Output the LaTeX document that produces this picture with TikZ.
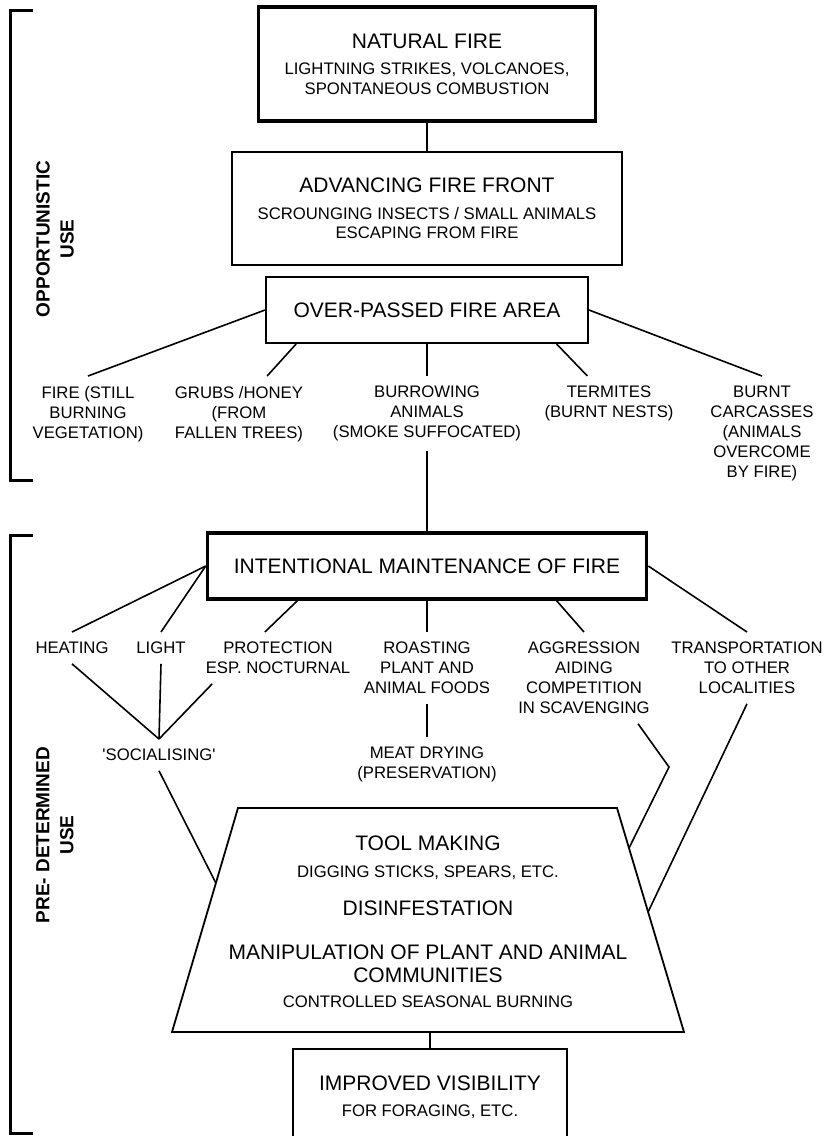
\documentclass[tikz,border=0pt]{standalone}
\usepackage{fontspec}
\setmainfont{Liberation Sans}
\usetikzlibrary{calc}
\newcommand\TitleF{\fontsize{10.5}{12.6}\selectfont}
\newcommand\SubF{\fontsize{8.35}{9.6}\selectfont}
\newcommand\LabF{\fontsize{8.35}{10}\selectfont}
\begin{document}
\begin{tikzpicture}[x=0.5pt,y=-0.5pt,
  conn/.style={line width=0.8pt},
  bracket/.style={line width=1.5pt},
  thinbox/.style={draw,line width=1pt,inner sep=0pt,align=center,font=\SubF},
  thickbox/.style={draw,line width=1.75pt,inner sep=0pt,align=center,font=\SubF},
  lab/.style={inner sep=0pt,outer sep=5pt,align=center,anchor=north,font=\LabF},
  txt/.style={inner sep=0pt,align=center,anchor=north,font=\SubF},
  side/.style={rotate=90,inner sep=0pt,align=center,font=\fontsize{9.5}{12}\selectfont\bfseries},
]
\useasboundingbox (0,0) rectangle (828,1136);
\clip (0,0) rectangle (828,1136);

% brackets
\draw[bracket] (33,10) -- (10,10) -- (10,480) -- (33,480);
\draw[bracket] (33,535) -- (10,535) -- (10,1133) -- (33,1133);
\node[side] (opp) at (55,239) {OPPORTUNISTIC\\USE};
\node[side] (pre) at (55,835) {PRE- DETERMINED\\USE};

% boxes
\node[thickbox,minimum width=168.5pt,minimum height=57pt] (nat) at (427,64)
  {{\TitleF NATURAL FIRE}\\[3.8pt]LIGHTNING STRIKES, VOLCANOES,\\SPONTANEOUS COMBUSTION};
\node[thinbox,minimum width=195pt,minimum height=56.5pt] (adv) at (427,208.5)
  {{\TitleF ADVANCING FIRE FRONT}\\[3.8pt]SCROUNGING INSECTS / SMALL ANIMALS\\ESCAPING FROM FIRE};
\node[thinbox,font=\TitleF,minimum width=161pt,minimum height=33pt] (over) at (427,310)
  {OVER-PASSED FIRE AREA};
\node[thickbox,font=\TitleF,minimum width=219.5pt,minimum height=33pt] (intent) at (427,566)
  {INTENTIONAL MAINTENANCE OF FIRE};
\node[thinbox,minimum width=137pt,minimum height=48pt] (vis) at (430,1097)
  {{\TitleF IMPROVED VISIBILITY}\\[3.3pt]FOR FORAGING, ETC.};

% upper labels
\node[lab] (fire) at (88,376) {FIRE (STILL\\BURNING\\VEGETATION)};
\node[lab] (grubs) at (239,376) {GRUBS /HONEY\\(FROM\\FALLEN TREES)};
\node[lab] (burrow) at (427,376) {BURROWING\\ANIMALS\\(SMOKE SUFFOCATED)};
\node[lab] (term) at (609,376) {TERMITES\\(BURNT NESTS)};
\node[lab] (carc) at (762,376) {BURNT\\CARCASSES\\(ANIMALS\\OVERCOME\\BY FIRE)};

% lower labels
\node[lab] (heat) at (72,632) {HEATING};
\node[lab] (light) at (161,632) {LIGHT};
\node[lab] (prot) at (278,632) {PROTECTION\\ESP. NOCTURNAL};
\node[lab] (roast) at (427,632) {ROASTING\\PLANT AND\\ANIMAL FOODS};
\node[lab] (aggr) at (584,632) {AGGRESSION\\AIDING\\COMPETITION\\IN SCAVENGING};
\node[lab] (trans) at (747,632) {TRANSPORTATION\\TO OTHER\\LOCALITIES};
\node[lab] (soc) at (159,739) {\textquotesingle SOCIALISING\textquotesingle};
\node[lab] (meat) at (427,737) {MEAT DRYING\\(PRESERVATION)};

% trapezoid
\coordinate (tzTL) at (238,808);
\coordinate (tzTR) at (617,808);
\coordinate (tzBR) at (684,1032);
\coordinate (tzBL) at (172,1032);
\draw[line width=0.9pt] (tzTL) -- (tzTR) -- (tzBR) -- (tzBL) -- cycle;
\node[txt] (tool) at (428,835.5) {{\TitleF TOOL MAKING}\\[3.8pt]DIGGING STICKS, SPEARS, ETC.};
\node[txt,font=\TitleF] (dis) at (428,900.5) {DISINFESTATION};
\node[txt] (manip) at (428,944.5) {{\TitleF MANIPULATION OF PLANT AND ANIMAL}\\[1.9pt]{\TitleF COMMUNITIES}\\[3.1pt]CONTROLLED SEASONAL BURNING};

% connectors
\draw[conn] (nat.south) -- (adv.north);
\draw[conn] (over.west) -- (fire.north);
\draw[conn] ($(over.south west)!0.096!(over.south east)$) -- ($(grubs.north west)!0.69!(grubs.north east)$);
\draw[conn] (over.south) -- (burrow.north);
\draw[conn] ($(over.south east)!0.1!(over.south west)$) -- ($(term.north west)!0.355!(term.north east)$);
\draw[conn] (over.east) -- (carc.north);
\draw[conn] (burrow.south) -- (intent.north);
\draw[conn] (intent.west) -- (heat.north);
\draw[conn] (intent.west) -- (light.north);
\draw[conn] ($(intent.south west)!0.207!(intent.south east)$) -- ($(prot.north west)!0.42!(prot.north east)$);
\draw[conn] (intent.south) -- (roast.north);
\draw[conn] ($(intent.south east)!0.207!(intent.south west)$) -- (aggr.north);
\draw[conn] (intent.east) -- (trans.north);
\draw[conn] (heat.south) -- (soc.north);
\draw[conn] (light.south) -- (soc.north);
\draw[conn] ($(prot.south west)!0.1!(prot.south east)$) -- (soc.north);
\draw[conn] (roast.south) -- (meat.north);
\draw[conn] (soc.south) -- ($(tzTL)!0.335!(tzBL)$);
\coordinate (agbend) at (669,767);
\draw[conn] ($(aggr.south west)!0.857!(aggr.south east)$) -- (agbend) -- ($(tzTR)!0.179!(tzBR)$);
\draw[conn] (trans.south) -- ($(tzTR)!0.464!(tzBR)$);
\draw[conn] (vis.north) -- (vis.north |- tzBL);
\end{tikzpicture}
\end{document}
